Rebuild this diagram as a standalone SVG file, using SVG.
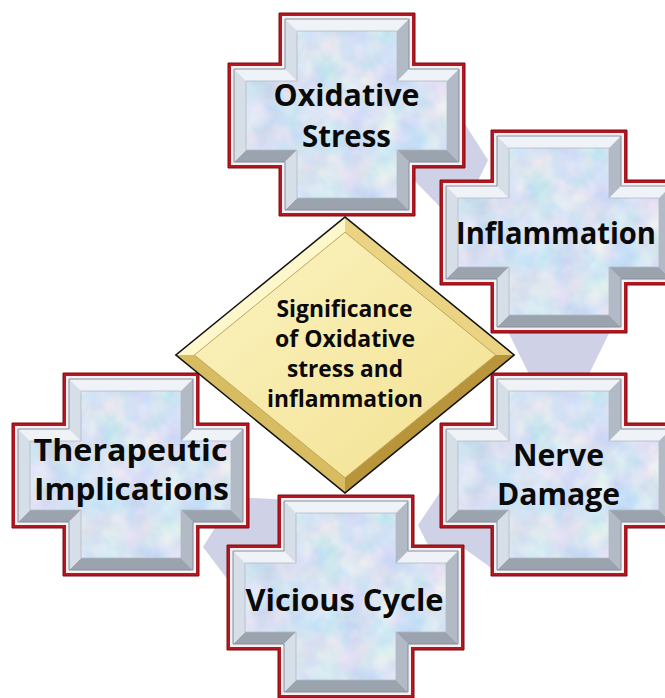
<svg xmlns="http://www.w3.org/2000/svg" width="665" height="698" viewBox="0 0 665 698">
<style>
.red{fill:#b5161f;stroke:#7d0d12;stroke-width:1}
.gap{fill:#f4f1f5}
.bt{fill:#eff3f8}
.br{fill:#b1bac5}
.bb{fill:#9aa3ae}
.bl{fill:#d6dee7}
.bedge{fill:none;stroke:#858e9a;stroke-width:1}
.face{fill:#d8e6f2}
.fedge{fill:none;stroke:#b0bac6;stroke-width:0.8}
.conn{fill:#cfd1e6}
.t{font-family:"Open Sans","Liberation Sans",sans-serif;font-weight:700;font-size:31px;fill:#0a0a0a;text-anchor:middle}
.d{font-size:24px}
</style>
<defs>
<filter id="tex" x="0" y="0" width="1" height="1" color-interpolation-filters="sRGB">
<feTurbulence type="fractalNoise" baseFrequency="0.035" numOctaves="3" seed="7" result="n"/>
<feColorMatrix in="n" type="matrix" values="0.32 0 0 0 0.68  0.1 0.12 0 0 0.78  0 0 0.08 0 0.91  0 0 0 0 1" result="c"/>
<feComposite in="c" in2="SourceGraphic" operator="in"/>
</filter>
<linearGradient id="dface" x1="0" y1="0" x2="1" y2="1">
<stop offset="0" stop-color="#fbf3c2"/>
<stop offset="1" stop-color="#f3e190"/>
</linearGradient>
<g id="cross">
<path class="red" d="M51,0 H187 V50 H237 V155 H187 V203 H51 V155 H0 V50 H51 Z"/>
<path class="gap" d="M54,3 H184 V53 H234 V152 H184 V200 H54 V152 H3 V53 H54 Z"/>
<path class="bt" d="M57,6 L181,6 L169,18 L69,18 Z M181,56 L231,56 L219,68 L169,68 Z M6,56 L57,56 L69,68 L18,68 Z"/>
<path class="br" d="M181,6 L181,56 L169,68 L169,18 Z M231,56 L231,149 L219,137 L219,68 Z M181,149 L181,197 L169,185 L169,137 Z"/>
<path class="bb" d="M231,149 L181,149 L169,137 L219,137 Z M181,197 L57,197 L69,185 L169,185 Z M57,149 L6,149 L18,137 L69,137 Z"/>
<path class="bl" d="M57,197 L57,149 L69,137 L69,185 Z M6,149 L6,56 L18,68 L18,137 Z M57,56 L57,6 L69,18 L69,68 Z"/>
<path class="bedge" d="M57,6 H181 V56 H231 V149 H181 V197 H57 V149 H6 V56 H57 Z"/>
<path class="face" filter="url(#tex)" d="M69,18 H169 V68 H219 V137 H169 V185 H69 V137 H18 V68 H69 Z"/>
<path class="fedge" d="M69,18 H169 V68 H219 V137 H169 V185 H69 V137 H18 V68 H69 Z"/>
</g>
</defs>
<g id="connectors">
<polygon class="conn" points="440,85 488,160 466,206 442,209 412,178 410,150"/>
<polygon class="conn" points="495,305 623,305 559,435"/>
<polygon class="conn" points="455,470 418,525 437,563 462,547 497,572 500,470"/>
<polygon class="conn" points="203,547 234,497 290,500 290,600 228,580"/>
</g>
<g id="oxidative-stress">
<use href="#cross" x="228" y="13"/>
<text class="t" x="346.5" y="106" textLength="146" lengthAdjust="spacingAndGlyphs">Oxidative</text>
<text class="t" x="346.5" y="147" textLength="89" lengthAdjust="spacingAndGlyphs">Stress</text>
</g>
<g id="inflammation">
<use href="#cross" x="440" y="130"/>
<text class="t" x="556" y="244" textLength="200" lengthAdjust="spacingAndGlyphs">Inflammation</text>
</g>
<g id="nerve-damage">
<use href="#cross" x="440" y="373"/>
<text class="t" x="558.5" y="466" textLength="91" lengthAdjust="spacingAndGlyphs">Nerve</text>
<text class="t" x="558.5" y="505" textLength="123" lengthAdjust="spacingAndGlyphs">Damage</text>
</g>
<g id="therapeutic-implications">
<use href="#cross" x="12" y="373"/>
<text class="t" x="130.5" y="461" textLength="194" lengthAdjust="spacingAndGlyphs">Therapeutic</text>
<text class="t" x="131.5" y="500" textLength="195" lengthAdjust="spacingAndGlyphs">Implications</text>
</g>
<g id="vicious-cycle">
<use href="#cross" x="227" y="495"/>
<text class="t" x="344.5" y="611" textLength="198" lengthAdjust="spacingAndGlyphs">Vicious Cycle</text>
</g>
<g id="center">
<polygon points="345,218 513,355 345,492 177,355" fill="#e9d27e" stroke="#111" stroke-width="3"/>
<polygon points="177,355 345,218 345,232.2 194.4,355" fill="#fff7cc"/>
<polygon points="345,218 513,355 495.6,355 345,232.2" fill="#ead382"/>
<polygon points="513,355 345,492 345,477.8 495.6,355" fill="#b8943a"/>
<polygon points="345,492 177,355 194.4,355 345,477.8" fill="#d8bc62"/>
<polygon points="345,232.2 495.6,355 345,477.8 194.4,355" fill="url(#dface)" stroke="#bfa758" stroke-width="1"/>
<text class="t d" x="344.5" y="317" textLength="136" lengthAdjust="spacingAndGlyphs">Significance</text>
<text class="t d" x="345" y="347" textLength="140" lengthAdjust="spacingAndGlyphs">of Oxidative</text>
<text class="t d" x="345" y="377" textLength="116" lengthAdjust="spacingAndGlyphs">stress and</text>
<text class="t d" x="345" y="407" textLength="156" lengthAdjust="spacingAndGlyphs">inflammation</text>
</g>
</svg>
